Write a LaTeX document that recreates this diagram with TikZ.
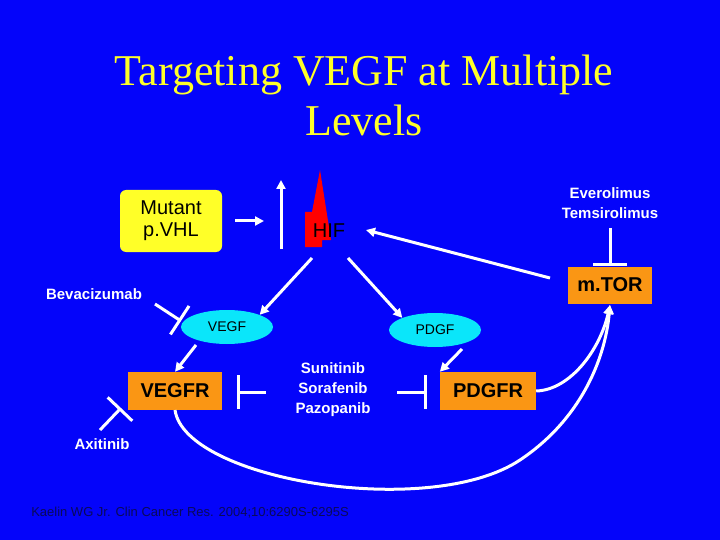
\documentclass[tikz,border=0pt]{standalone}
\usepackage{fontspec}
\setmainfont{Liberation Serif}
\setsansfont{Liberation Sans}
\usetikzlibrary{arrows.meta,shapes.geometric}
\definecolor{bg}{RGB}{4,4,250}
\definecolor{boxor}{RGB}{250,150,20}
\definecolor{boxyl}{RGB}{255,255,40}
\definecolor{ellc}{RGB}{10,230,250}
\definecolor{cite}{RGB}{10,10,90}
\begin{document}
\begin{tikzpicture}[x=1pt,y=-1pt,
  wl/.style={draw=white,line width=3pt},
  act/.style={wl,-{Triangle[length=9pt,width=9pt]}},
  inh/.style={wl,-{Bar[width=34pt,line width=3pt]}},
  obox/.style={fill=boxor,font=\sffamily\bfseries\fontsize{20}{22}\selectfont,inner sep=0pt},
  ell/.style={ellipse,fill=ellc,minimum width=92pt,minimum height=34pt,inner sep=0pt,font=\sffamily\fontsize{14}{16}\selectfont},
  wt/.style={text=white,font=\sffamily\bfseries\fontsize{15}{20}\selectfont,align=center}]
\fill[bg] (0,0) rectangle (720,540);
\useasboundingbox (0,0) rectangle (720,540);
\node[font=\fontsize{44}{50}\selectfont,text=boxyl,align=center] (title) at (364,95) {Targeting VEGF at Multiple\\Levels};
\node[fill=boxyl,rounded corners=6pt,minimum width=102pt,minimum height=62pt,align=center,font=\sffamily\fontsize{20}{22}\selectfont,inner sep=0pt] (vhl) at (171,221) {Mutant\\p.VHL};
\fill[red] (320,170) -- (331,240) -- (322,240) -- (322,247) -- (305,247) -- (305,212) -- (312,212) -- cycle;
\node[font=\sffamily\fontsize{20}{22}\selectfont] (hif) at (329,231) {HIF};
\coordinate (a1) at (235,221); \coordinate (a2) at (264,221);
\draw[act] (a1) -- (a2);
\coordinate (u1) at (281,249); \coordinate (u2) at (281,180);
\draw[act] (u1) -- (u2);
\node[wt] (evero) at (610,203) {Everolimus\\Temsirolimus};
\node[obox,minimum width=84pt,minimum height=37pt] (mtor) at (610,285) {m.TOR};
\coordinate (e1) at (610,228);
\draw[inh] (e1) -- (mtor.north);
\coordinate (m1) at (550,278); \coordinate (h1) at (366,230);
\draw[act] (m1) -- (h1);
\node[wt] (beva) at (94,294) {Bevacizumab};
\node[ell] (vegf) at (227,327) {VEGF};
\node[ell] (pdgf) at (435,330) {PDGF};
\coordinate (b1) at (155,304); \coordinate (b2) at (181,321);
\draw[inh] (b1) -- (b2);
\coordinate (h2) at (312,258); \coordinate (h3) at (348,258);
\draw[act] (h2) -- (vegf.north east);
\draw[act] (h3) -- (pdgf.north west);
\node[obox,minimum width=94pt,minimum height=38pt] (vegfr) at (175,391) {VEGFR};
\node[obox,minimum width=96pt,minimum height=38pt] (pdgfr) at (488,391) {PDGFR};
\coordinate (v1) at (196,345); \coordinate (p1) at (462,349);
\draw[act] (v1) -- (vegfr.north);
\draw[act] (p1) -- (pdgfr.north west);
\node[wt] (suni) at (333,390) {Sunitinib\\Sorafenib\\Pazopanib};
\coordinate (s1) at (266,392); \coordinate (s2) at (237,392);
\coordinate (s3) at (397,392); \coordinate (s4) at (427,392);
\draw[inh] (s1) -- (s2);
\draw[inh] (s3) -- (s4);
\node[wt] (axi) at (102,444) {Axitinib};
\coordinate (x1) at (100,430); \coordinate (x2) at (121,408);
\draw[inh] (x1) -- (x2);
\coordinate (vb) at (175,410); \coordinate (mb) at (610,305);
\draw[act] (vb) .. controls (185,480) and (430,520) .. (520,460) .. controls (580,420) and (605,360) .. (mb);
\draw[act] (pdgfr.east) .. controls (570,390) and (600,350) .. (mb);
\node[text=cite,font=\sffamily\fontsize{13}{15}\selectfont] (cit) at (190,513) {Kaelin WG Jr. Clin Cancer Res. 2004;10:6290S-6295S};
\end{tikzpicture}
\end{document}
